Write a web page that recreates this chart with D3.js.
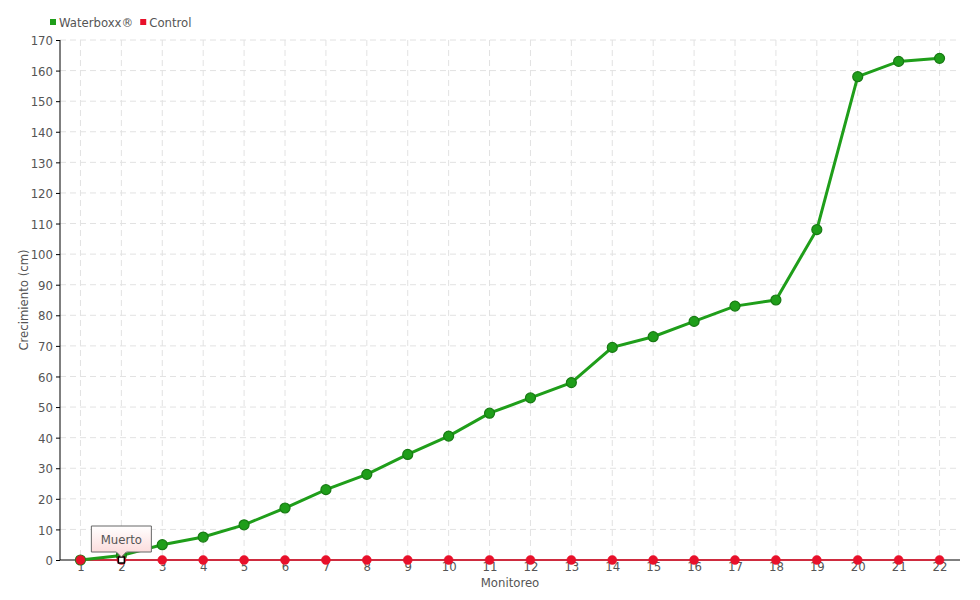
<!DOCTYPE html>
<html>
<head>
<meta charset="utf-8">
<script src="https://cdn.jsdelivr.net/npm/d3@7"></script>
<style>
  body { margin: 0; background: #fff; }
  svg text { font-family: "DejaVu Sans Condensed", "Liberation Sans Narrow", sans-serif; font-stretch: condensed; fill: #555; }
</style>
</head>
<body>
<svg width="980" height="600"></svg>
<script>
var monitoreo = d3.range(1, 23).map(String);
var waterboxx = [0, 1.5, 5, 7.5, 11.5, 17, 23, 28, 34.5, 40.5, 48, 53, 58, 69.5, 73, 78, 83, 85, 108, 158, 163, 164];
var control = [0, 0, 0, 0, 0, 0, 0, 0, 0, 0, 0, 0, 0, 0, 0, 0, 0, 0, 0, 0, 0, 0];
var yTicks = d3.range(0, 171, 10);
var seriesNames = ["Waterboxx®", "Control"];
var seriesColors = ["#1f9e1a", "#e8102a"];

var svg = d3.select("svg");
var margin = {"top": 40, "right": 20, "bottom": 40, "left": 60};
var width = +svg.attr("width") - margin.left - margin.right;
var height = +svg.attr("height") - margin.top - margin.bottom;
var g = svg.append("g").attr("transform", "translate(" + margin.left + "," + margin.top + ")");

var x = d3.scalePoint().domain(monitoreo).range([0, width]).padding(0.5);
var y = d3.scaleLinear().domain([0, 170]).range([height, 0]);

// grid
g.append("g").selectAll("line").data(yTicks.slice(1)).enter().append("line")
    .attr("x1", 0).attr("x2", width)
    .attr("y1", function (d) { return y(d); }).attr("y2", function (d) { return y(d); })
    .attr("stroke", "#e2e2e2").attr("stroke-dasharray", "6,4");
g.append("g").selectAll("line").data(monitoreo).enter().append("line")
    .attr("x1", function (d) { return x(d); }).attr("x2", function (d) { return x(d); })
    .attr("y1", 0).attr("y2", height)
    .attr("stroke", "#e2e2e2").attr("stroke-dasharray", "6,4");

// axes
var yAxis = g.append("g").call(d3.axisLeft(y).tickValues(yTicks).tickSize(4).tickPadding(3));
yAxis.select(".domain").attr("stroke", "#000").attr("d", "M0,0V" + height);
yAxis.selectAll(".tick line").attr("stroke", "#000");
yAxis.selectAll("text").style("font-size", "13px").attr("dy", "0.36em");

var xAxis = g.append("g").attr("transform", "translate(0," + height + ")")
    .call(d3.axisBottom(x).tickSize(0).tickPadding(2));
xAxis.select(".domain").attr("stroke", "#000").attr("d", "M0,0H" + width);
xAxis.selectAll("text").style("font-size", "13px");

// lines
var line = d3.line()
    .x(function (d, i) { return x(monitoreo[i]); })
    .y(function (d) { return y(d); });

g.append("path").datum(control).attr("d", line)
    .attr("fill", "none").attr("stroke", seriesColors[1]).attr("stroke-width", 1.5);
g.append("path").datum(waterboxx).attr("d", line)
    .attr("fill", "none").attr("stroke", seriesColors[0]).attr("stroke-width", 3);

g.append("g").selectAll("circle").data(waterboxx).enter().append("circle")
    .attr("cx", function (d, i) { return x(monitoreo[i]); })
    .attr("cy", function (d) { return y(d); })
    .attr("r", 5)
    .attr("fill", seriesColors[0]).attr("stroke", "#187a14").attr("stroke-width", 1.2);
g.append("g").selectAll("circle").data(control).enter().append("circle")
    .attr("cx", function (d, i) { return x(monitoreo[i]); })
    .attr("cy", function (d) { return y(d); })
    .attr("r", 4.5)
    .attr("fill", seriesColors[1]).attr("stroke", "#e8102a").attr("stroke-width", 0.5);

// tooltip on control point 2
var defs = svg.append("defs");
var grad = defs.append("linearGradient").attr("id", "tip").attr("x1", 0).attr("x2", 0).attr("y1", 0).attr("y2", 1);
grad.append("stop").attr("offset", "0%").attr("stop-color", "#ffffff");
grad.append("stop").attr("offset", "100%").attr("stop-color", "#fbd6d6");

var tx = x("2"), ty = y(control[1]);
g.append("rect").attr("x", tx - 3).attr("y", ty - 3).attr("width", 6).attr("height", 6)
    .attr("fill", "#fff").attr("stroke", "#000").attr("stroke-width", 1.5);
var tip = g.append("g").attr("transform", "translate(" + tx + "," + ty + ")");
tip.append("path")
    .attr("d", "M-30,-34H30V-8H5L0,-3L-5,-8H-30Z")
    .attr("fill", "url(#tip)").attr("stroke", "#666").attr("stroke-width", 1);
tip.append("text").attr("x", 0).attr("y", -16).attr("text-anchor", "middle")
    .style("font-size", "13px").style("fill", "#555").text("Muerto");

// axis titles
svg.append("text").attr("x", margin.left + width / 2).attr("y", 587)
    .attr("text-anchor", "middle").style("font-size", "13px").text("Monitoreo");
svg.append("text").attr("transform", "translate(28," + (margin.top + height / 2) + ") rotate(-90)")
    .attr("text-anchor", "middle").style("font-size", "13px").text("Crecimiento (cm)");

// legend
var legend = svg.append("g").attr("transform", "translate(50,22)");
var lx = 0;
seriesNames.forEach(function (name, i) {
    legend.append("rect").attr("x", lx).attr("y", -3).attr("width", 6).attr("height", 6).attr("fill", seriesColors[i]);
    var t = legend.append("text").attr("x", lx + 9).attr("y", 5).style("font-size", "13px").text(name);
    lx += t.node().getComputedTextLength() + 16;
});
</script>
</body>
</html>
